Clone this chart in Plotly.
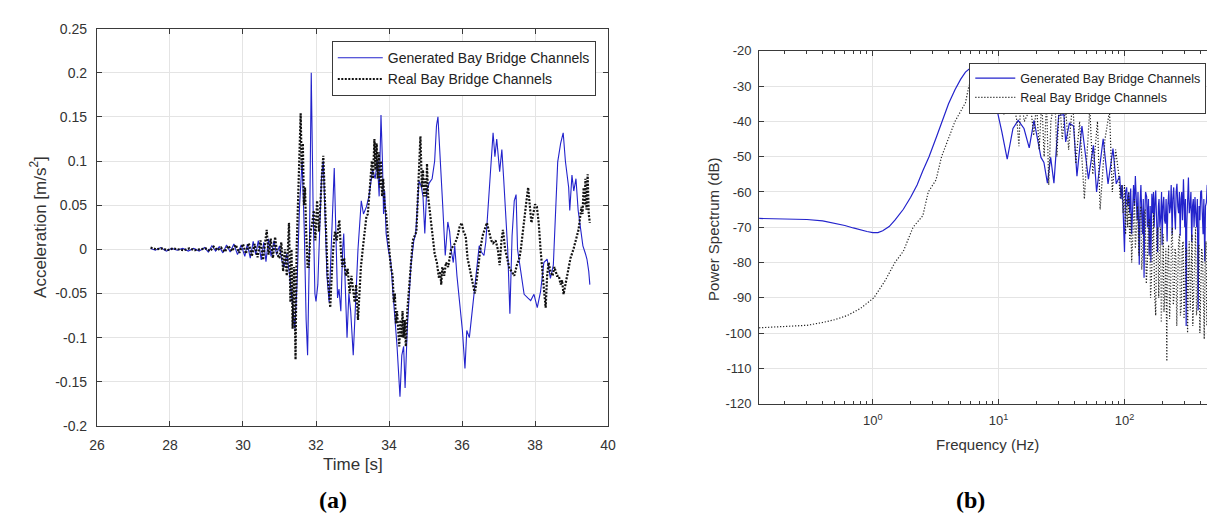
import math
import plotly.graph_objects as go

# ---------------- data: panel (a) time history ----------------
gen_time = [
    27.47, 27.6, 27.75, 27.9, 28.05, 28.2, 28.35, 28.5, 28.65, 28.8,
    28.95, 29.05, 29.15, 29.25, 29.35, 29.45, 29.55, 29.65, 29.75, 29.85,
    29.95, 30.05, 30.12, 30.2, 30.28, 30.35, 30.42, 30.5, 30.57, 30.63,
    30.7, 30.77, 30.85, 30.92, 31.0, 31.06, 31.13, 31.2, 31.28, 31.35,
    31.42, 31.48, 31.55, 31.62, 31.68, 31.73, 31.77, 31.82, 31.87, 31.92,
    31.97, 32.0, 32.05, 32.1, 32.15, 32.2, 32.25, 32.3, 32.36, 32.42,
    32.47, 32.5, 32.55, 32.59, 32.63, 32.68, 32.73, 32.76, 32.8, 32.85,
    32.9, 32.95, 33.02, 33.08, 33.15, 33.24, 33.3, 33.38, 33.45, 33.5,
    33.55, 33.62, 33.68, 33.73, 33.78, 33.82, 33.85, 33.88, 33.92, 33.98,
    34.05, 34.1, 34.15, 34.22, 34.3, 34.35, 34.4, 34.44, 34.5, 34.55,
    34.6, 34.68, 34.73, 34.78, 34.82, 34.88, 34.93, 34.98, 35.03, 35.1,
    35.18, 35.25, 35.3, 35.34, 35.4, 35.47, 35.54, 35.61, 35.66, 35.7,
    35.76, 35.8, 35.86, 35.93, 36.01, 36.08, 36.13, 36.2, 36.25, 36.35,
    36.42, 36.47, 36.53, 36.6, 36.65, 36.72, 36.8, 36.85, 36.9, 36.95,
    37.03, 37.09, 37.14, 37.2, 37.25, 37.31, 37.37, 37.43, 37.48, 37.52,
    37.57, 37.61, 37.7, 37.8, 37.88, 37.97, 38.06, 38.15, 38.24, 38.33,
    38.42, 38.5, 38.56, 38.62, 38.7, 38.77, 38.83, 38.87, 38.92, 38.95,
    39.01, 39.06, 39.12, 39.18, 39.25, 39.31, 39.38, 39.42, 39.47, 39.5,
]
gen_acc = [
    0.001, -0.001, 0.002, -0.002, 0.001, -0.001, 0.001, -0.002, 0.001, -0.002,
    0.002, -0.003, 0.004, -0.002, 0.003, -0.004, 0.005, -0.003, 0.006, -0.006,
    0.005, -0.008, 0.006, -0.010, 0.009, -0.006, 0.010, -0.012, 0.008, -0.014,
    0.012, -0.008, 0.010, -0.006, 0.004, -0.012, -0.020, -0.005, -0.030, -0.065,
    -0.090, -0.040, 0.050, 0.100, 0.020, -0.080, -0.120, 0.000, 0.200, 0.050,
    -0.050, -0.059, -0.040, 0.020, 0.080, 0.100, 0.040, -0.030, -0.060, 0.000,
    0.060, 0.092, 0.010, -0.055, -0.045, -0.070, 0.000, 0.018, -0.040, -0.100,
    -0.050, -0.070, -0.120, -0.060, 0.000, 0.055, 0.040, 0.048, 0.060, 0.075,
    0.090, 0.080, 0.100, 0.060, 0.152, 0.100, 0.040, 0.066, 0.018, 0.000,
    -0.015, -0.045, -0.073, -0.110, -0.167, -0.120, -0.110, -0.157, -0.090, -0.060,
    -0.018, 0.010, 0.018, 0.050, 0.077, 0.072, 0.060, 0.018, 0.065, 0.075,
    0.080, 0.100, 0.140, 0.150, 0.110, 0.050, -0.007, 0.031, 0.020, 0.000,
    -0.015, 0.004, -0.030, -0.060, -0.092, -0.135, -0.092, -0.100, -0.080, -0.044,
    -0.010, 0.004, -0.003, -0.007, 0.008, 0.050, 0.110, 0.132, 0.105, 0.125,
    0.088, 0.113, 0.080, 0.040, 0.000, -0.073, 0.015, 0.055, 0.062, 0.000,
    -0.015, -0.022, -0.051, -0.055, -0.058, -0.051, -0.066, -0.048, -0.015, -0.011,
    -0.033, -0.018, 0.040, 0.099, 0.120, 0.132, 0.100, 0.088, 0.070, 0.044,
    0.084, 0.066, 0.080, 0.044, 0.020, 0.004, -0.005, -0.011, -0.025, -0.040,
]

real_time = [
    27.47, 27.62, 27.78, 27.93, 28.08, 28.23, 28.38, 28.53, 28.68, 28.83,
    28.98, 29.1, 29.2, 29.3, 29.4, 29.5, 29.6, 29.7, 29.8, 29.9,
    30.0, 30.08, 30.16, 30.24, 30.32, 30.4, 30.48, 30.55, 30.6, 30.65,
    30.7, 30.76, 30.82, 30.88, 30.94, 31.0, 31.05, 31.1, 31.15, 31.2,
    31.26, 31.3, 31.33, 31.36, 31.4, 31.44, 31.47, 31.5, 31.53, 31.56,
    31.58, 31.61, 31.64, 31.67, 31.7, 31.73, 31.77, 31.8, 31.85, 31.9,
    31.94, 31.98, 32.03, 32.08, 32.13, 32.17, 32.2, 32.24, 32.28, 32.32,
    32.36, 32.39, 32.43, 32.47, 32.52, 32.57, 32.61, 32.64, 32.68, 32.72,
    32.77, 32.82, 32.87, 32.92, 32.97, 33.02, 33.06, 33.1, 33.15, 33.19,
    33.23, 33.28, 33.33, 33.38, 33.42, 33.46, 33.5, 33.53, 33.56, 33.6,
    33.63, 33.66, 33.69, 33.72, 33.75, 33.78, 33.81, 33.84, 33.88, 33.92,
    33.96, 34.0, 34.05, 34.1, 34.13, 34.16, 34.19, 34.22, 34.25, 34.28,
    34.31, 34.34, 34.37, 34.4, 34.43, 34.46, 34.5, 34.55, 34.6, 34.65,
    34.7, 34.75, 34.8, 34.84, 34.86, 34.9, 34.93, 34.96, 34.99, 35.02,
    35.04, 35.07, 35.1, 35.15, 35.2, 35.25, 35.31, 35.37, 35.4, 35.43,
    35.46, 35.51, 35.56, 35.62, 35.7, 35.81, 35.88, 35.93, 35.99, 36.04,
    36.1, 36.15, 36.2, 36.25, 36.3, 36.35, 36.4, 36.45, 36.5, 36.56,
    36.62, 36.68, 36.74, 36.8, 36.85, 36.92, 36.98, 37.03, 37.08, 37.12,
    37.18, 37.24, 37.3, 37.36, 37.43, 37.5, 37.57, 37.61, 37.66, 37.7,
    37.75, 37.81, 37.86, 37.9, 37.95, 38.0, 38.05, 38.1, 38.15, 38.2,
    38.24, 38.29, 38.33, 38.37, 38.42, 38.48, 38.53, 38.6, 38.65, 38.7,
    38.74, 38.78, 38.83, 38.9, 38.97, 39.05, 39.12, 39.19, 39.23, 39.27,
    39.3, 39.33, 39.36, 39.38, 39.41, 39.44, 39.47, 39.5,
]
real_acc = [
    0.002, 0.000, 0.001, -0.001, 0.001, 0.000, -0.001, 0.001, -0.001, 0.000,
    0.001, -0.002, 0.003, -0.001, 0.002, -0.003, 0.004, -0.002, 0.005, -0.004,
    0.006, -0.005, 0.007, -0.008, 0.006, -0.009, 0.010, -0.012, 0.005, 0.022,
    -0.006, 0.012, -0.010, 0.014, -0.006, -0.010, 0.008, -0.025, 0.000, -0.030,
    0.030, -0.060, 0.000, -0.090, -0.020, -0.125, 0.000, 0.050, 0.080, 0.120,
    0.154, 0.090, 0.120, 0.050, 0.070, 0.020, -0.020, -0.020, 0.020, 0.030,
    0.044, 0.010, 0.055, 0.020, 0.070, 0.090, 0.106, 0.060, 0.020, -0.030,
    -0.050, -0.066, -0.030, 0.000, 0.020, 0.010, 0.025, 0.033, 0.000, -0.020,
    -0.010, -0.030, -0.022, -0.050, -0.030, -0.044, -0.060, -0.040, -0.080, -0.050,
    -0.020, 0.000, 0.020, 0.037, 0.040, 0.060, 0.080, 0.100, 0.080, 0.125,
    0.090, 0.120, 0.080, 0.110, 0.070, 0.100, 0.060, 0.080, 0.050, 0.040,
    0.020, 0.000, -0.020, -0.030, -0.060, -0.050, -0.084, -0.070, -0.100, -0.110,
    -0.080, -0.100, -0.070, -0.100, -0.080, -0.110, -0.070, -0.040, -0.010, 0.010,
    0.015, 0.020, 0.070, 0.100, 0.128, 0.070, 0.090, 0.060, 0.080, 0.060,
    0.097, 0.060, 0.050, 0.030, 0.010, -0.005, -0.015, -0.033, -0.025, -0.040,
    -0.020, -0.030, -0.015, -0.020, 0.000, 0.007, 0.015, 0.025, 0.030, 0.020,
    0.015, -0.010, -0.020, -0.030, -0.040, -0.050, -0.035, -0.015, 0.000, 0.015,
    0.022, 0.030, 0.020, 0.010, 0.007, 0.010, 0.000, -0.018, 0.010, 0.022,
    0.000, -0.010, -0.022, -0.025, -0.030, -0.018, -0.010, 0.000, 0.020, 0.037,
    0.050, 0.070, 0.045, 0.030, 0.040, 0.051, 0.048, 0.030, 0.000, -0.030,
    -0.044, -0.066, -0.030, -0.015, -0.025, -0.030, -0.020, -0.030, -0.030, -0.040,
    -0.035, -0.051, -0.040, -0.025, -0.010, 0.000, 0.010, 0.022, 0.035, 0.048,
    0.040, 0.070, 0.050, 0.080, 0.045, 0.085, 0.040, 0.030,
]

# ---------------- data: panel (b) power spectrum ----------------
gen_freq = [
    0.125, 0.2, 0.3, 0.4, 0.5, 0.6, 0.7, 0.8, 0.9, 1.0,
    1.1, 1.2, 1.35, 1.5, 1.75, 2.0, 2.25, 2.5, 2.8, 3.2,
    3.6, 4.0, 4.5, 5.0, 5.45, 5.8, 6.2, 7.0, 8.0, 9.3,
    10.6, 11.7, 13.0, 14.3, 15.9, 17.5, 19.1, 21.7, 22.9, 24.4,
    25.9, 27.5, 30.0, 33.0, 34.1, 36.5, 39.4, 41.9, 45.9, 51.7,
    56.6, 60.0, 67.7, 74.0, 81.0, 86.0, 91.5, 94, 96, 98,
    100, 102, 104, 106, 108, 110, 112, 114, 116, 118,
    120, 122, 124, 126, 128, 131, 133, 135, 137, 139,
    141, 143, 145, 147, 150, 152, 155, 157, 160, 162,
    165, 168, 170, 172, 175, 177, 180, 183, 186, 188,
    191, 194, 197, 199, 202, 205, 208, 211, 214, 218,
    221, 225, 228, 232, 235, 239, 242, 246, 250, 254,
    257, 261, 265, 269, 273, 277, 281, 285, 289, 294,
    298, 301, 305, 309, 312, 315, 318, 322, 327, 332,
    337, 342, 347, 352, 357, 363, 368, 374, 379, 385,
    391, 397, 403, 409, 415, 421, 427, 434, 440, 447,
    454, 461, 468, 475, 482, 490, 497, 505,
]
gen_db = [
    -67.5, -67.6, -67.8, -68.2, -68.8, -69.5, -70.2, -70.8, -71.2, -71.5,
    -71.5, -71.0, -69.8, -68.0, -64.9, -61.5, -58.0, -54.0, -50.0, -44.5,
    -39.2, -35.0, -31.0, -28.0, -26.0, -25.2, -25.0, -26.0, -29.0, -33.7,
    -42.9, -50.7, -42.0, -39.7, -42.0, -47.5, -39.7, -50.2, -51.6, -57.5,
    -50.2, -57.5, -38.3, -38.1, -45.8, -40.5, -41.3, -55.5, -41.3, -56.4,
    -46.8, -60.0, -44.9, -57.7, -47.7, -57.7, -55.5, -62.0, -58.0, -66.0,
    -77.0, -60.0, -58.7, -64.0, -60.0, -66.0, -59.0, -72.0, -62.0, -58.0,
    -64.0, -55.5, -62.0, -68.0, -60.0, -80.6, -63.0, -58.0, -66.0, -72.0,
    -62.0, -84.3, -66.0, -60.0, -61.4, -70.0, -62.0, -78.0, -64.0, -80.0,
    -60.5, -66.0, -60.0, -70.0, -62.0, -59.6, -68.0, -77.0, -64.0, -62.0,
    -70.0, -67.0, -60.0, -75.0, -64.0, -61.4, -68.0, -69.0, -62.0, -74.0,
    -64.0, -59.6, -66.0, -64.0, -58.0, -72.0, -62.0, -58.7, -66.0, -70.6,
    -60.0, -57.7, -64.0, -66.0, -60.0, -72.4, -62.0, -60.0, -68.0, -56.4,
    -64.0, -70.0, -62.0, -98.0, -70.0, -66.0, -60.0, -55.9, -66.0, -64.0,
    -60.0, -74.2, -64.0, -62.0, -70.0, -61.4, -66.0, -70.0, -62.0, -93.5,
    -64.0, -68.0, -60.0, -59.6, -66.0, -72.0, -62.0, -79.7, -64.0, -63.0,
    -58.0, -58.7, -68.0, -66.0, -60.0, -67.0, -62.0, -60.0,
]

real_freq = [
    0.125, 0.2, 0.3, 0.4, 0.5, 0.63, 0.8, 1.02, 1.26, 1.5,
    1.75, 2.09, 2.5, 2.76, 3.18, 3.52, 4.3, 4.5, 5.45, 5.8,
    6.5, 7.5, 8.5, 9.5, 10.2, 11.0, 12.0, 13.0, 14.0, 14.5,
    15.0, 16.0, 18.0, 19.0, 20.0, 21.0, 22.0, 23.0, 24.0, 25.0,
    26.0, 28.0, 29.0, 30.5, 32.0, 34.0, 36.0, 38.8, 41.0, 44.0,
    48.0, 53.0, 56.0, 61.0, 64.0, 70.0, 76.0, 80.0, 85.0, 90.0,
    92.5, 95, 97.5, 100, 102, 104, 106, 108, 110, 112,
    114, 116, 118, 120, 122, 125, 127, 130, 132, 135,
    137, 140, 143, 146, 149, 152, 155, 158, 161, 164,
    167, 170, 173, 177, 180, 184, 187, 190, 193, 196,
    200, 203, 206, 210, 213, 217, 220, 224, 228, 232,
    236, 240, 244, 248, 252, 256, 260, 265, 269, 274,
    278, 283, 287, 292, 297, 302, 307, 312, 317, 322,
    327, 333, 338, 344, 349, 355, 361, 367, 373, 379,
    385, 391, 397, 404, 410, 417, 423, 430, 437, 444,
    451, 458, 465, 472, 479, 487, 493, 500,
]
real_db = [
    -98.5, -98.2, -97.8, -97.0, -96.2, -95.0, -93.0, -90.0, -85.0, -80.0,
    -76.8, -70.0, -66.7, -60.0, -56.6, -50.0, -42.0, -40.0, -34.7, -30.0,
    -26.0, -24.0, -26.0, -28.0, -30.0, -38.0, -35.0, -34.0, -40.0, -47.0,
    -33.0, -40.0, -36.0, -44.0, -35.0, -48.0, -34.0, -50.0, -34.0, -58.0,
    -40.0, -33.0, -50.0, -34.0, -45.0, -36.0, -48.0, -34.0, -52.0, -40.0,
    -62.0, -36.0, -55.0, -40.0, -65.0, -45.0, -37.0, -60.0, -48.0, -55.0,
    -62.0, -58.0, -66.0, -58.0, -72.0, -62.0, -70.0, -60.0, -74.0, -66.0,
    -80.0, -74.0, -64.0, -62.0, -76.0, -70.0, -64.0, -78.0, -68.0, -64.0,
    -82.0, -76.0, -66.0, -65.0, -86.0, -80.0, -68.0, -68.0, -90.0, -84.0,
    -70.0, -66.0, -88.0, -95.0, -72.0, -70.0, -90.0, -82.0, -70.0, -97.0,
    -74.0, -72.0, -94.0, -88.0, -76.0, -108.0, -80.0, -75.0, -96.0, -90.0,
    -74.0, -70.0, -92.0, -89.0, -76.0, -78.0, -98.0, -86.0, -74.0, -72.0,
    -95.0, -92.5, -76.0, -74.0, -96.0, -88.0, -76.0, -76.0, -100.0, -84.0,
    -74.0, -93.5, -78.0, -72.0, -98.0, -86.0, -74.0, -70.0, -95.0, -91.6,
    -76.0, -75.0, -100.0, -88.0, -76.0, -78.0, -96.0, -101.7, -80.0, -74.0,
    -98.0, -90.0, -78.0, -111.0, -82.0, -78.0, -110.0, -120.0,
]

# ---------------- tick labels ----------------
acc_ticks = [0.25, 0.2, 0.15, 0.1, 0.05, 0, -0.05, -0.1, -0.15, -0.2]
acc_labels = ["0.25", "0.2", "0.15", "0.1", "0.05", "0", "-0.05", "-0.1", "-0.15", "-0.2"]
time_ticks = [26, 28, 30, 32, 34, 36, 38, 40]
db_ticks = [-20, -30, -40, -50, -60, -70, -80, -90, -100, -110, -120]
db_labels = ["-20", "-30", "-40", "-50", "-60", "-70", "-80", "-90", "-100", "-110", "-120"]
freq_ticks = [1, 10, 100]
freq_labels = ["10<sup>0</sup>", "10<sup>1</sup>", "10<sup>2</sup>"]
freq_minor = [0.2, 0.3, 0.4, 0.5, 0.6, 0.7, 0.8, 0.9,
              2, 3, 4, 5, 6, 7, 8, 9,
              20, 30, 40, 50, 60, 70, 80, 90,
              200, 300, 400, 500]

NAME_GEN = "Generated Bay Bridge Channels"
NAME_REAL = "Real Bay Bridge Channels"

# ---------------- figure ----------------
W, H = 1215, 517
BLUE = "#2323cc"
AX = "#3a3a3a"
GRID = "#e4e4e4"
SANS = "Liberation Sans, Arial, sans-serif"
TXT = "#333333"

fig = go.Figure()
fig.add_trace(go.Scatter(x=gen_time, y=gen_acc, mode="lines", name=NAME_GEN,
                         line=dict(color=BLUE, width=1.1), xaxis="x", yaxis="y",
                         legend="legend"))
fig.add_trace(go.Scatter(x=real_time, y=real_acc, mode="lines", name=NAME_REAL,
                         line=dict(color="#111111", width=2.2, dash="2px,1.5px"),
                         xaxis="x", yaxis="y", legend="legend"))
fig.add_trace(go.Scatter(x=gen_freq, y=gen_db, mode="lines", name=NAME_GEN,
                         line=dict(color=BLUE, width=1.2), xaxis="x2", yaxis="y2",
                         legend="legend2"))
fig.add_trace(go.Scatter(x=real_freq, y=real_db, mode="lines", name=NAME_REAL,
                         line=dict(color="#222222", width=1.2, dash="1.2px,1.8px"),
                         xaxis="x2", yaxis="y2", legend="legend2"))

common = dict(showline=True, linecolor=AX, linewidth=1, mirror="ticks",
              ticks="inside", ticklen=5, tickcolor=AX, tickwidth=1,
              showgrid=True, gridcolor=GRID, gridwidth=1, zeroline=False,
              tickfont=dict(family=SANS, size=14, color=TXT))

fig.update_layout(
    width=W, height=H, autosize=False,
    margin=dict(l=0, r=0, t=0, b=0),
    paper_bgcolor="white", plot_bgcolor="white",
    xaxis=dict(common, domain=[82 / W, 600 / W], range=[26, 40], anchor="y",
               tickmode="array", tickvals=time_ticks, ticklabelstandoff=6),
    yaxis=dict(common, domain=[1 - 423 / H, 1 - 13 / H], range=[-0.2, 0.25], anchor="x",
               tickmode="array", tickvals=acc_ticks, ticktext=acc_labels,
               ticklabelstandoff=6),
    xaxis2=dict(common, type="log", domain=[753 / W, 1213 / W],
                range=[math.log10(0.125), math.log10(505)], anchor="y2",
                tickmode="array", tickvals=freq_ticks, ticktext=freq_labels,
                ticklabelstandoff=5,
                tickfont=dict(family=SANS, size=13, color=TXT),
                minor=dict(tickmode="array", tickvals=freq_minor, ticks="inside",
                           ticklen=3, tickcolor=AX, showgrid=False)),
    yaxis2=dict(common, domain=[1 - 400 / H, 1 - 36 / H], range=[-120, -20], anchor="x2",
                tickmode="array", tickvals=db_ticks, ticktext=db_labels,
                ticklabelstandoff=4,
                tickfont=dict(family=SANS, size=13, color=TXT)),
    legend=dict(x=320 / W, y=1 - 26 / H, xanchor="left", yanchor="top",
                bgcolor="white", bordercolor=AX, borderwidth=1,
                font=dict(family=SANS, size=14, color="#222222"),
                itemwidth=45, tracegroupgap=0),
    legend2=dict(x=966 / W, y=1 - 48 / H, xanchor="left", yanchor="top",
                 bgcolor="white", bordercolor=AX, borderwidth=1,
                 font=dict(family=SANS, size=12.5, color="#222222"),
                 itemwidth=40, tracegroupgap=0),
    showlegend=True,
)

annotations = [
    dict(text="Acceleration [m/s<sup>2</sup>]", x=23 / W, y=1 - 218 / H, textangle=-90,
         font=dict(family=SANS, size=17, color=TXT)),
    dict(text="Time [s]", x=341 / W, y=1 - 463 / H,
         font=dict(family=SANS, size=17, color=TXT)),
    dict(text="Power Spectrum (dB)", x=707 / W, y=1 - 220 / H, textangle=-90,
         font=dict(family=SANS, size=15, color=TXT)),
    dict(text="Frequency (Hz)", x=984 / W, y=1 - 442 / H,
         font=dict(family=SANS, size=15, color=TXT)),
    dict(text="<b>(a)</b>", x=321 / W, y=1 - 499 / H,
         font=dict(family="Liberation Serif, Times New Roman, serif", size=24, color="black")),
    dict(text="<b>(b)</b>", x=967 / W, y=1 - 499 / H,
         font=dict(family="Liberation Serif, Times New Roman, serif", size=24, color="black")),
]
for a in annotations:
    a.update(xref="paper", yref="paper", showarrow=False, xanchor="center", yanchor="middle")
fig.update_layout(annotations=annotations)

fig.write_html("out.html", config={"displayModeBar": False})
